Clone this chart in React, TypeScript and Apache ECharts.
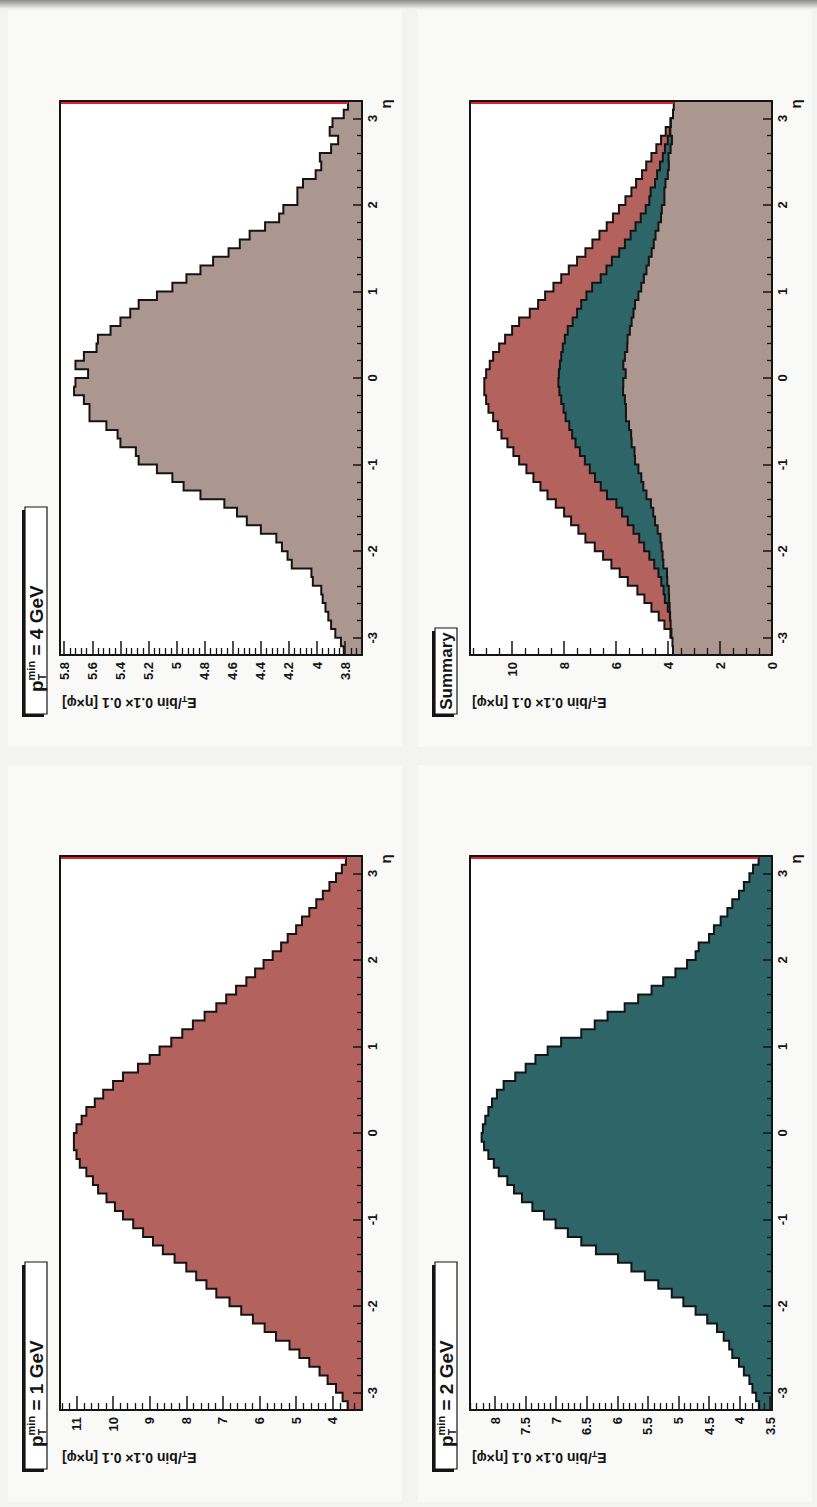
import React, { useEffect, useRef } from "react";
import * as echarts from "echarts";

// eta binning of the histograms
const ETA_MIN = -3.2;
const ETA_MAX = 3.2;
const BIN_WIDTH = 0.1;

// E_T per 0.1x0.1 bin, read bin by bin from eta = -3.2 to 3.2
const ET_1GEV = [
  3.59, 3.73, 3.91, 4.14, 4.36, 4.64, 4.91, 5.18, 5.55, 5.86,
  6.18, 6.5, 6.82, 7.18, 7.45, 7.73, 8.0, 8.32, 8.64, 8.91,
  9.18, 9.45, 9.73, 9.95, 10.18, 10.41, 10.55, 10.73, 10.91, 11.0,
  11.07, 11.07, 11.0, 10.86, 10.73, 10.5, 10.27, 10.0, 9.73, 9.32,
  9.0, 8.73, 8.41, 8.11, 7.82, 7.5, 7.18, 6.91, 6.64, 6.36,
  6.12, 5.89, 5.64, 5.41, 5.23, 5.0, 4.84, 4.64, 4.45, 4.27,
  4.09, 3.91, 3.75, 3.64,
];
const ET_2GEV = [
  3.68, 3.73, 3.79, 3.84, 3.93, 4.01, 4.12, 4.17, 4.26, 4.37,
  4.53, 4.72, 4.92, 5.11, 5.33, 5.55, 5.77, 5.99, 6.35, 6.59,
  6.81, 7.01, 7.2, 7.39, 7.56, 7.69, 7.8, 7.94, 8.02, 8.11,
  8.18, 8.22, 8.2, 8.16, 8.11, 8.05, 7.97, 7.86, 7.67, 7.5,
  7.34, 7.14, 6.92, 6.59, 6.37, 6.16, 5.88, 5.66, 5.44, 5.25,
  5.05, 4.86, 4.72, 4.67, 4.5, 4.42, 4.31, 4.2, 4.12, 4.01,
  3.93, 3.84, 3.78, 3.69,
];
const ET_4GEV = [
  3.81, 3.83, 3.87, 3.9, 3.92, 3.94, 3.96, 3.97, 4.03, 4.04,
  4.18, 4.21, 4.25, 4.29, 4.4, 4.5, 4.57, 4.66, 4.83, 4.95,
  5.03, 5.14, 5.27, 5.29, 5.4, 5.42, 5.5, 5.62, 5.62, 5.66,
  5.73, 5.72, 5.63, 5.72, 5.66, 5.57, 5.56, 5.47, 5.4, 5.33,
  5.27, 5.14, 5.03, 4.93, 4.83, 4.74, 4.63, 4.55, 4.48, 4.37,
  4.27, 4.24, 4.14, 4.14, 4.1, 4.01, 3.97, 3.98, 3.9, 3.85,
  3.91, 3.89, 3.81, 3.78,
];

// axis ranges (E_T) of each pad
const RANGE_4GEV: [number, number] = [3.68, 5.83];
const RANGE_SUMMARY: [number, number] = [0, 11.62];
const RANGE_1GEV: [number, number] = [3.2, 11.45];
const RANGE_2GEV: [number, number] = [3.47, 8.41];

const RED = "#b3625d";
const TEAL = "#2e6568";
const TAN = "#ab978f";
const INK = "#141414";
const FONT = "'Liberation Sans', Arial, Helvetica, sans-serif";

type Hist = { values: number[]; color: string };
type Panel = {
  col: number;
  row: number;
  pt?: string;
  title?: string;
  range: [number, number];
  interval: number;
  minorSplit: number;
  showMin: boolean;
  hists: Hist[];
};

const PANELS: Panel[] = [
  { col: 0, row: 0, pt: "4", range: RANGE_4GEV, interval: 0.2, minorSplit: 5, showMin: false, hists: [{ values: ET_4GEV, color: TAN }] },
  {
    col: 1, row: 0, title: "Summary", range: RANGE_SUMMARY, interval: 2, minorSplit: 4, showMin: true,
    hists: [
      { values: ET_1GEV, color: RED },
      { values: ET_2GEV, color: TEAL },
      { values: ET_4GEV, color: TAN },
    ],
  },
  { col: 0, row: 1, pt: "1", range: RANGE_1GEV, interval: 1, minorSplit: 5, showMin: false, hists: [{ values: ET_1GEV, color: RED }] },
  { col: 1, row: 1, pt: "2", range: RANGE_2GEV, interval: 0.5, minorSplit: 5, showMin: false, hists: [{ values: ET_2GEV, color: TEAL }] },
];

// layout
const W = 817;
const H = 1507;
const PAD_W = 410;
const PAD_H = 755;
const FRAME_L = 60;
const FRAME_T = 101;
const FRAME_W = 302;
const FRAME_H = 554;

function makeRenderItem(values: number[], color: string, base: number) {
  return (_params: any, api: any) => {
    const fill: number[][] = [api.coord([base, ETA_MIN])];
    const line: number[][] = [];
    values.forEach((v, i) => {
      const lo = ETA_MIN + i * BIN_WIDTH;
      const hi = ETA_MIN + (i + 1) * BIN_WIDTH;
      const a = api.coord([v, lo]);
      const b = api.coord([v, hi]);
      fill.push(a, b);
      line.push(a, b);
    });
    fill.push(api.coord([base, ETA_MAX]));
    return {
      type: "group",
      children: [
        { type: "polygon", shape: { points: fill }, style: { fill: color, stroke: "none" } },
        { type: "polyline", shape: { points: line }, style: { fill: "none", stroke: INK, lineWidth: 2 } },
      ],
    };
  };
}

function buildOption() {
  const grid: any[] = [];
  const xAxis: any[] = [];
  const yAxis: any[] = [];
  const series: any[] = [];
  const graphic: any[] = [];

  // pad backgrounds of the scanned page
  [0, 1].forEach((c) =>
    [0, 1].forEach((r) => {
      graphic.push({
        type: "rect",
        silent: true,
        z: -10,
        shape: { x: c * PAD_W + 8, y: r * PAD_H + 10, width: PAD_W - 16, height: PAD_H - 18 },
        style: { fill: "#f9f9f8" },
      });
    })
  );
  graphic.push({
    type: "rect",
    silent: true,
    shape: { x: 0, y: 0, width: W, height: 9 },
    style: {
      fill: new echarts.graphic.LinearGradient(0, 0, 0, 1, [
        { offset: 0, color: "#8a8a8a" },
        { offset: 1, color: "#f3f3f1" },
      ]),
    },
  });

  PANELS.forEach((p, g) => {
    const ox = p.col * PAD_W;
    const oy = p.row * PAD_H;
    grid.push({
      left: ox + FRAME_L,
      top: oy + FRAME_T,
      width: FRAME_W,
      height: FRAME_H,
      show: true,
      backgroundColor: "#ffffff",
      borderWidth: 0,
      containLabel: false,
      outerBoundsMode: "none",
    });
    const [emin, emax] = p.range;
    const frameLine = { show: true, onZero: false, lineStyle: { color: INK, width: 2 } };
    // E_T axis (bottom, increasing to the left)
    xAxis.push({
      type: "value",
      gridIndex: g,
      min: emin,
      max: emax,
      inverse: true,
      position: "bottom",
      splitNumber: Math.round((emax - emin) / p.interval),
      minInterval: p.interval,
      maxInterval: p.interval,
      axisLine: frameLine,
      axisTick: { show: true, inside: true, length: 14, lineStyle: { color: INK, width: 1.5 } },
      minorTick: { show: true, splitNumber: p.minorSplit, length: 7, lineStyle: { color: INK, width: 1.3 } },
      splitLine: { show: false },
      minorSplitLine: { show: false },
      axisLabel: {
        show: true,
        rotate: 90,
        margin: 7,
        color: INK,
        fontSize: 13,
        fontWeight: "bold",
        fontFamily: FONT,
        showMinLabel: p.showMin,
        showMaxLabel: false,
      },
      z: 10,
    });
    xAxis.push({
      type: "value",
      gridIndex: g,
      min: emin,
      max: emax,
      inverse: true,
      position: "top",
      axisLine: frameLine,
      axisTick: { show: false },
      axisLabel: { show: false },
      splitLine: { show: false },
      z: 10,
    });
    // eta axis (right, increasing upward)
    yAxis.push({
      type: "value",
      gridIndex: g,
      min: ETA_MIN,
      max: ETA_MAX,
      position: "right",
      splitNumber: 6,
      minInterval: 1,
      maxInterval: 1,
      axisLine: frameLine,
      axisTick: { show: true, inside: true, length: 9, lineStyle: { color: INK, width: 1.5 } },
      minorTick: { show: true, splitNumber: 5, length: 5, lineStyle: { color: INK, width: 1.3 } },
      splitLine: { show: false },
      minorSplitLine: { show: false },
      axisLabel: {
        show: true,
        rotate: 90,
        margin: 4,
        color: INK,
        fontSize: 13,
        fontWeight: "bold",
        fontFamily: FONT,
        showMinLabel: false,
        showMaxLabel: false,
      },
      z: 10,
    });
    yAxis.push({
      type: "value",
      gridIndex: g,
      min: ETA_MIN,
      max: ETA_MAX,
      position: "left",
      axisLine: frameLine,
      axisTick: { show: false },
      axisLabel: { show: false },
      splitLine: { show: false },
      z: 10,
    });
    const xi = g * 2;
    const yi = g * 2;
    p.hists.forEach((h) => {
      series.push({
        type: "custom",
        xAxisIndex: xi,
        yAxisIndex: yi,
        silent: true,
        z: 2,
        data: [[emin, 0]],
        renderItem: makeRenderItem(h.values, h.color, emin),
      });
    });
    // red line along the top edge of the frame, inside it, up to the histogram
    const lastVals = p.hists.map((h) => h.values[h.values.length - 1]);
    const redEta = ETA_MAX - 0.022;
    series.push({
      type: "line",
      xAxisIndex: xi,
      yAxisIndex: yi,
      silent: true,
      z: 3,
      clip: true,
      symbol: "none",
      lineStyle: { color: "#e3232c", width: 2.2, cap: "butt" },
      data: [
        [emax, redEta],
        [Math.max(...lastVals), redEta],
      ],
    });

    // title box (ROOT pave, rotated)
    const boxH = p.pt ? 207 : 86;
    const boxBottom = oy + 714;
    const boxTop = boxBottom - boxH;
    graphic.push({ type: "rect", silent: true, shape: { x: ox + 22, y: boxTop + 3, width: 22, height: boxH }, style: { fill: INK } });
    graphic.push({
      type: "rect",
      silent: true,
      shape: { x: ox + 25, y: boxTop, width: 22, height: boxH },
      style: { fill: "#ffffff", stroke: INK, lineWidth: 1.2 },
    });
    if (p.pt) {
      graphic.push({
        type: "text",
        silent: true,
        x: ox + 36,
        y: oy + 692,
        rotation: Math.PI / 2,
        style: {
          text: "{m|p}{s|min}{m| = " + p.pt + " GeV}",
          align: "left",
          verticalAlign: "middle",
          fill: INK,
          rich: {
            m: { fontSize: 19, fontWeight: "bold", fontFamily: FONT, fill: INK, lineHeight: 22 },
            s: { fontSize: 11, fontWeight: "bold", fontFamily: FONT, fill: INK, verticalAlign: "top", lineHeight: 22 },
          },
        },
      });
      graphic.push({
        type: "text",
        silent: true,
        x: ox + 42,
        y: oy + 680,
        rotation: Math.PI / 2,
        style: { text: "T", align: "left", verticalAlign: "middle", fill: INK, fontSize: 10, fontWeight: "bold", fontFamily: FONT },
      });
    } else {
      graphic.push({
        type: "text",
        silent: true,
        x: ox + 36,
        y: boxTop + boxH / 2,
        rotation: Math.PI / 2,
        style: { text: p.title, align: "center", verticalAlign: "middle", fill: INK, fontSize: 17, fontWeight: "bold", fontFamily: FONT },
      });
    }
    // E_T axis title (upside down)
    graphic.push({
      type: "text",
      silent: true,
      x: ox + FRAME_L + 2,
      y: oy + 703,
      rotation: Math.PI,
      style: {
        text: "{m|E}{s|T}{m|/bin 0.1× 0.1 [η×φ]}",
        align: "right",
        verticalAlign: "middle",
        fill: INK,
        rich: {
          m: { fontSize: 14, fontWeight: "bold", fontFamily: FONT, fill: INK, lineHeight: 17 },
          s: { fontSize: 9, fontWeight: "bold", fontFamily: FONT, fill: INK, verticalAlign: "bottom", lineHeight: 17 },
        },
      },
    });
    // eta axis title
    graphic.push({
      type: "text",
      silent: true,
      x: ox + FRAME_L + FRAME_W + 23,
      y: oy + FRAME_T + 3,
      rotation: Math.PI / 2,
      style: { text: "η", align: "center", verticalAlign: "middle", fill: INK, fontSize: 15, fontWeight: "bold", fontFamily: FONT },
    });
  });

  return {
    animation: false,
    backgroundColor: "#f3f3f1",
    grid,
    xAxis,
    yAxis,
    series,
    graphic: { elements: graphic },
  };
}

export default function App() {
  const ref = useRef<HTMLDivElement>(null);
  useEffect(() => {
    if (!ref.current) return;
    const chart = echarts.init(ref.current, undefined, { renderer: "svg", width: W, height: H });
    chart.setOption(buildOption() as any);
    return () => chart.dispose();
  }, []);
  return <div ref={ref} style={{ position: "absolute", left: 0, top: 0, width: W, height: H }} />;
}
